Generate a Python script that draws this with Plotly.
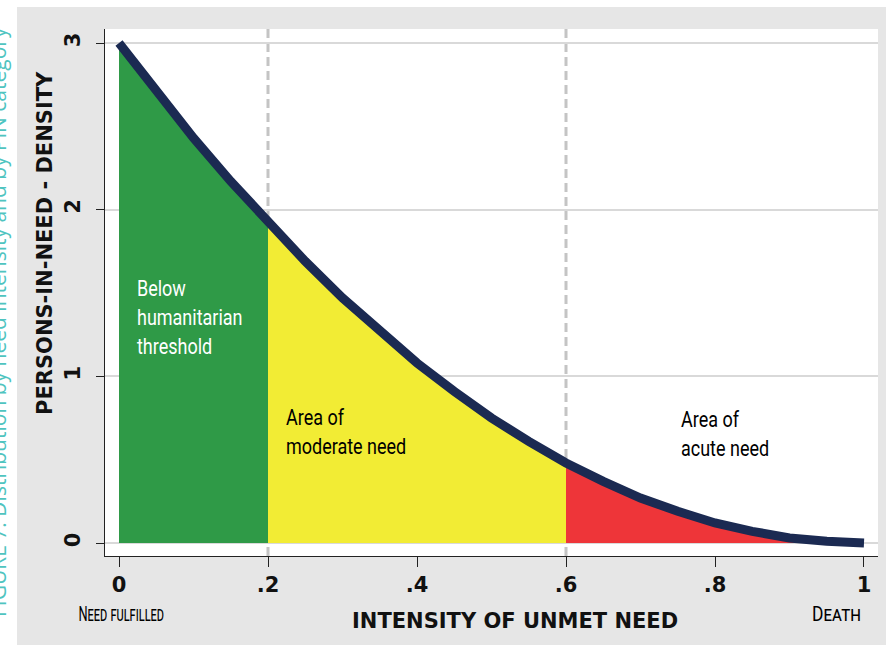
import plotly.graph_objects as go

# Values
intensity = [0.0, 0.05, 0.10, 0.15, 0.20, 0.25, 0.30, 0.35, 0.40, 0.45, 0.50,
             0.55, 0.60, 0.65, 0.70, 0.75, 0.80, 0.85, 0.90, 0.95, 1.0]
density = [3.00, 2.71, 2.43, 2.17, 1.92, 1.69, 1.47, 1.27, 1.08, 0.91, 0.75,
           0.61, 0.48, 0.37, 0.27, 0.19, 0.12, 0.07, 0.03, 0.01, 0.0]

thresholds = [0.2, 0.6]
x_ticks = [0, 0.2, 0.4, 0.6, 0.8, 1]
x_tick_labels = ["0", ".2", ".4", ".6", ".8", "1"]
y_ticks = [0, 1, 2, 3]
y_tick_labels = ["0", "1", "2", "3"]

zones = [
    ("Below humanitarian threshold", 0.0, 0.2, "#2f9a47"),
    ("Area of moderate need", 0.2, 0.6, "#f2ec34"),
    ("Area of acute need", 0.6, 1.0, "#ee3539"),
]

BOLD = "DejaVu Sans"
NARROW = "Roboto"

fig = go.Figure()

for name, lo, hi, col in zones:
    xs = [x for x in intensity if lo - 1e-9 <= x <= hi + 1e-9]
    ys = [density[intensity.index(x)] for x in xs]
    fig.add_trace(go.Scatter(x=xs, y=ys, mode="lines", fill="tozeroy",
                             fillcolor=col, line=dict(width=0, color=col),
                             name=name, hoverinfo="skip", showlegend=False))

fig.add_trace(go.Scatter(x=intensity, y=density, mode="lines",
                         line=dict(color="#1b2a52", width=9),
                         showlegend=False, name="density"))

for t in thresholds:
    fig.add_shape(type="line", xref="x", yref="paper", x0=t, x1=t, y0=0, y1=1,
                  line=dict(color="#c4c4c4", width=3, dash="9px,5px"), layer="below")

PW, PH, L, B = 773, 527, 105, 556

def px(xp):
    return (xp - L) / PW

def py(yp):
    return (B - yp) / PH

# page frame: white strips at top and left
fig.add_shape(type="rect", xref="paper", yref="paper", x0=-0.2, x1=1.1,
              y0=py(7), y1=1.2, fillcolor="white", line_width=0, layer="below")
fig.add_shape(type="rect", xref="paper", yref="paper", x0=-0.2, x1=px(17),
              y0=-0.3, y1=1.2, fillcolor="white", line_width=0, layer="below")

ann_font = dict(family=NARROW, size=22.5)
fig.add_annotation(x=0.0215, y=1.355, xref="x", yref="y", xanchor="left", yanchor="middle",
                   text="Below<br>humanitarian<br>threshold", showarrow=False, align="left",
                   font=dict(ann_font, color="white"))
fig.add_annotation(x=0.2215, y=0.67, xref="x", yref="y", xanchor="left", yanchor="middle",
                   text="Area of<br>moderate need", showarrow=False, align="left",
                   font=dict(ann_font, color="black"))
fig.add_annotation(x=0.7517, y=0.66, xref="x", yref="y", xanchor="left", yanchor="middle",
                   text="Area of<br>acute need", showarrow=False, align="left",
                   font=dict(ann_font, color="black"))

fig.add_annotation(x=px(120.5), y=py(614), xref="paper", yref="paper",
                   xanchor="center", yanchor="middle",
                   text="Need fulfilled", showarrow=False,
                   font=dict(family=NARROW, size=21, color="black", variant="small-caps"))
fig.add_annotation(x=px(836), y=py(614), xref="paper", yref="paper",
                   xanchor="center", yanchor="middle",
                   text="Death", showarrow=False,
                   font=dict(family=NARROW, size=21, color="black", variant="small-caps"))

fig.add_annotation(x=px(515), y=py(621), xref="paper", yref="paper",
                   xanchor="center", yanchor="middle",
                   text="<b>INTENSITY OF UNMET NEED</b>", showarrow=False,
                   font=dict(family=BOLD, size=21, color="#111"))
fig.add_annotation(x=px(45), y=py(243), xref="paper", yref="paper",
                   xanchor="center", yanchor="middle",
                   text="<b>PERSONS-IN-NEED - DENSITY</b>", showarrow=False, textangle=-90,
                   font=dict(family=BOLD, size=21, color="#111"))

fig.add_annotation(x=px(-2), y=py(322), xref="paper", yref="paper",
                   xanchor="center", yanchor="middle",
                   text="FIGURE 7: Distribution by need intensity and by PiN category",
                   showarrow=False, textangle=-90,
                   font=dict(family="Open Sans", size=21, color="#4fc4c0"))

fig.update_layout(
    width=886, height=645,
    margin=dict(l=L, r=8, t=29, b=645 - B),
    paper_bgcolor="#e6e6e6", plot_bgcolor="white",
    showlegend=False,
    xaxis=dict(range=[-0.0188, 1.0188], tickvals=x_ticks, ticktext=x_tick_labels,
               showgrid=False, zeroline=False, showline=True, linecolor="#222", linewidth=1,
               ticks="outside", ticklen=10, tickcolor="#222",
               tickfont=dict(family=BOLD, size=21, color="#111", weight="bold")),
    yaxis=dict(range=[-0.078, 3.084], tickvals=y_ticks, ticktext=y_tick_labels,
               showgrid=True, gridcolor="#d9d9d9", gridwidth=2, zeroline=False,
               showline=True, linecolor="#222", linewidth=1,
               ticks="outside", ticklen=8, tickcolor="#222", tickangle=-90,
               ticklabelstandoff=8,
               tickfont=dict(family=BOLD, size=21, color="#111", weight="bold")),
)

post = """
document.body.style.margin = '0';
var gd = document.getElementById('{plot_id}');
gd.querySelectorAll('text.annotation-text').forEach(function(t) {
  var ff = (t.style.fontFamily || '').toLowerCase();
  if (ff.indexOf('roboto') === -1) return;
  var s = t.getAttribute('data-unformatted') || t.textContent;
  var sx = 0.8, origin = 'left center';
  if (s.indexOf('Need fulfilled') === 0) { sx = 0.61; origin = 'center center'; }
  if (s.indexOf('Death') === 0) { sx = 0.83; origin = 'center center'; }
  t.style.transformBox = 'fill-box';
  t.style.transformOrigin = origin;
  t.style.transform = 'scaleX(' + sx + ')';
});
"""

fig.write_html("out.html", post_script=post, config={"displayModeBar": False})
